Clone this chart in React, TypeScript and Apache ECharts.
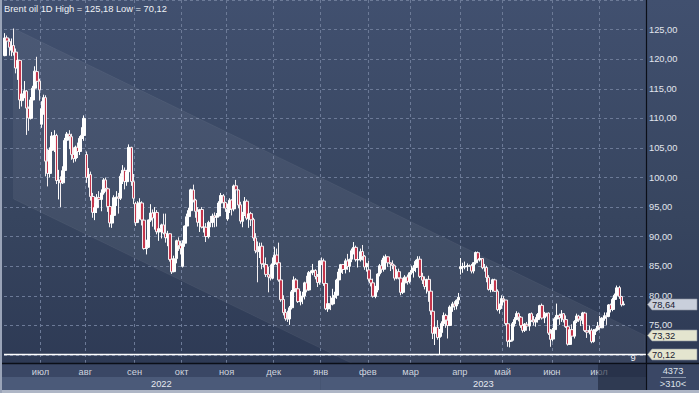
import React, { useEffect, useRef } from "react";
import * as echarts from "echarts";

const FONT = "'Liberation Sans', Arial, sans-serif";
const TITLE = "Brent oil 1D High = 125,18 Low = 70,12";
const firstDay = "2022-06-08";
const lastDay = "2023-07-18";
const monthShort = ["янв", "фев", "мар", "апр", "май", "июн", "июл", "авг", "сен", "окт", "ноя", "дек"];
const padSlots = 10;

// rows: [open, high, low, close]
const jun22 = [
  [120.6, 124.4, 120.5, 123.58], [123.6, 124.0, 121.7, 123.07], [123.0, 123.5, 120.6, 122.01], [121.5, 123.5, 120.5, 122.27],
  [122.3, 125.18, 120.6, 121.17], [121.2, 121.8, 117.6, 118.51], [118.5, 120.6, 116.5, 119.81], [119.8, 119.9, 111.6, 113.12],
  [113.0, 115.6, 112.0, 114.13], [114.1, 116.3, 113.4, 114.65], [114.6, 114.8, 107.2, 111.74], [111.7, 112.0, 107.9, 110.05],
  [110.0, 113.6, 109.8, 113.12], [113.1, 115.5, 112.4, 115.09], [115.1, 118.8, 115.0, 117.98], [117.9, 120.4, 115.6, 116.26],
  [116.3, 116.7, 113.0, 114.81],
];
const jul22 = [
  [109.0, 112.9, 108.4, 111.63], [111.6, 114.0, 110.6, 113.5], [113.5, 113.9, 100.2, 102.77], [102.8, 104.8, 98.5, 100.69],
  [100.7, 105.1, 100.0, 104.65], [104.6, 107.7, 103.5, 107.02], [107.0, 108.0, 104.3, 107.1], [107.1, 107.4, 98.9, 99.49],
  [99.5, 101.3, 96.3, 99.57], [99.6, 100.2, 95.0, 99.1], [99.1, 101.9, 98.9, 101.16], [101.2, 106.7, 101.0, 106.27],
  [106.3, 107.7, 104.5, 107.35], [107.3, 108.0, 104.8, 106.92], [106.9, 107.4, 103.0, 103.86], [103.9, 105.1, 102.5, 103.2],
  [103.2, 105.4, 102.7, 105.15], [105.1, 105.9, 103.3, 104.4], [104.4, 107.0, 103.8, 106.62], [106.6, 108.5, 104.9, 107.14],
  [107.1, 110.5, 106.2, 110.01],
];
const aug22 = [
  [103.9, 104.4, 99.1, 100.03], [100.0, 101.6, 98.3, 100.54], [100.5, 101.0, 96.1, 96.78], [96.8, 97.4, 93.2, 94.12],
  [94.1, 95.7, 92.8, 94.92], [94.9, 97.2, 94.0, 96.65], [96.6, 97.7, 95.3, 96.31], [96.3, 98.0, 94.3, 97.4],
  [97.4, 99.9, 97.1, 99.6], [99.6, 100.0, 97.6, 98.15], [98.1, 98.3, 94.2, 95.1], [95.1, 95.6, 91.6, 92.34],
  [92.3, 94.3, 91.5, 93.65], [93.6, 97.0, 93.2, 96.59], [96.6, 97.7, 95.2, 96.72], [96.7, 97.4, 93.9, 96.48],
  [96.5, 100.7, 96.2, 100.22], [100.2, 102.1, 98.9, 101.22], [101.2, 101.7, 98.0, 99.34], [99.3, 101.3, 98.6, 100.99],
  [101.0, 105.6, 100.7, 105.09], [105.1, 105.2, 98.6, 99.31], [99.3, 100.6, 95.5, 96.49],
];
const sep22 = [
  [95.6, 95.9, 91.8, 92.36], [92.4, 96.0, 92.3, 93.02], [93.0, 96.5, 93.0, 95.74], [95.7, 96.0, 91.9, 92.83],
  [92.8, 93.2, 87.8, 88.0], [88.0, 89.5, 87.0, 88.15], [88.2, 92.9, 88.1, 92.84], [92.8, 95.5, 92.5, 94.0],
  [94.0, 94.6, 91.7, 93.17], [93.2, 95.0, 91.2, 94.1], [94.1, 94.5, 90.4, 90.84], [90.8, 91.7, 89.3, 91.35],
  [91.4, 92.2, 89.7, 92.0], [92.0, 93.9, 90.4, 90.62], [90.6, 93.9, 89.0, 89.83], [89.8, 91.0, 88.4, 90.46],
  [90.5, 90.6, 85.8, 86.15], [86.2, 86.8, 83.7, 84.06], [84.1, 86.8, 84.0, 86.27], [86.3, 89.5, 85.5, 89.32],
  [89.3, 89.9, 87.6, 88.49], [88.5, 89.3, 87.0, 87.96],
];
const oct22 = [
  [85.0, 89.4, 84.8, 88.86], [88.9, 91.9, 88.3, 91.8], [91.8, 93.9, 91.2, 93.37], [93.4, 94.9, 92.6, 94.42],
  [94.4, 98.1, 94.2, 97.92], [97.9, 98.8, 95.8, 96.19], [96.2, 96.4, 93.2, 94.29], [94.3, 95.0, 91.7, 92.45],
  [92.4, 94.7, 90.8, 94.57], [94.6, 95.0, 91.4, 91.63], [91.6, 93.4, 90.7, 91.62], [91.6, 92.3, 89.1, 90.03],
  [90.0, 92.7, 89.7, 92.41], [92.4, 93.5, 91.6, 92.38], [92.4, 93.9, 91.6, 93.5], [93.5, 94.1, 91.6, 93.26],
  [93.3, 94.0, 91.7, 93.52], [93.5, 96.0, 93.3, 95.69], [95.7, 97.4, 95.0, 96.96], [96.9, 97.2, 94.8, 95.77],
  [95.8, 95.9, 94.2, 94.83],
];
const nov22 = [
  [93.0, 95.6, 92.7, 94.65], [94.6, 96.5, 94.0, 96.16], [96.2, 96.3, 93.6, 94.67], [94.7, 98.8, 94.3, 98.57],
  [98.6, 99.6, 97.2, 97.92], [97.9, 98.0, 94.8, 95.36], [95.4, 95.9, 92.2, 92.65], [92.6, 94.2, 91.6, 93.67],
  [93.7, 96.7, 93.5, 95.99], [96.0, 96.3, 92.8, 93.14], [93.1, 95.1, 91.5, 93.86], [93.9, 94.2, 91.8, 92.86],
  [92.9, 93.2, 89.3, 89.78], [89.8, 90.6, 87.2, 87.62], [87.6, 89.2, 82.3, 87.45], [87.5, 89.0, 86.4, 88.36],
  [88.4, 89.0, 84.5, 85.41], [85.4, 86.2, 84.8, 85.34], [85.3, 86.5, 83.2, 83.63], [83.6, 84.9, 80.6, 83.19],
  [83.2, 85.3, 82.6, 83.03], [83.0, 86.5, 82.8, 85.43],
];
const dec22 = [
  [85.4, 88.3, 85.2, 86.88], [86.9, 88.0, 85.2, 85.57], [85.6, 89.0, 82.4, 82.68], [82.7, 83.4, 79.0, 79.35],
  [79.4, 80.1, 76.7, 77.17], [77.2, 77.8, 75.8, 76.15], [76.1, 77.5, 75.6, 76.1], [76.1, 78.3, 75.1, 77.99],
  [78.0, 81.0, 77.7, 80.68], [80.7, 83.3, 80.1, 82.7], [82.7, 83.0, 80.8, 81.21], [81.2, 81.6, 78.8, 79.04],
  [79.0, 80.8, 78.4, 79.8], [79.8, 80.7, 78.6, 79.99], [80.0, 82.4, 79.4, 82.2], [82.2, 83.4, 80.6, 80.98],
  [81.0, 84.2, 80.9, 83.92], [83.9, 84.3, 83.5, 84.0], [84.0, 85.4, 83.5, 84.33], [84.3, 84.5, 82.8, 83.26],
  [83.3, 83.7, 81.5, 82.26], [82.3, 86.0, 81.9, 85.91],
];
const jan23 = [
  [85.9, 86.5, 85.2, 85.9], [85.9, 86.3, 81.7, 82.1], [82.1, 82.6, 77.6, 77.84], [77.8, 79.4, 77.3, 78.69],
  [78.7, 80.0, 77.6, 78.57], [78.6, 81.2, 78.4, 79.65], [79.7, 80.7, 78.6, 80.1], [80.1, 82.9, 79.5, 82.67],
  [82.7, 84.6, 82.1, 84.03], [84.0, 85.4, 83.6, 85.28], [85.3, 85.4, 83.7, 84.46], [84.5, 86.3, 83.8, 85.92],
  [85.9, 87.1, 84.4, 84.98], [85.0, 86.3, 84.0, 86.16], [86.2, 88.0, 85.7, 87.63], [87.6, 89.1, 87.0, 88.19],
  [88.2, 88.5, 85.8, 86.13], [86.1, 86.6, 84.8, 86.12], [86.1, 88.0, 85.8, 87.47], [87.5, 88.6, 86.0, 86.66],
  [86.7, 86.9, 84.4, 84.9], [84.9, 85.6, 84.1, 85.46],
];
const feb23 = [
  [84.4, 85.9, 82.4, 82.84], [82.8, 83.3, 81.6, 82.17], [82.2, 82.9, 79.7, 79.94], [79.9, 81.7, 79.6, 80.99],
  [81.0, 83.8, 80.6, 83.69], [83.7, 85.4, 83.3, 85.09], [85.1, 86.1, 83.9, 84.5], [84.5, 86.8, 84.1, 86.39],
  [86.4, 87.0, 85.3, 86.61], [86.6, 86.6, 84.9, 85.58], [85.6, 85.6, 84.2, 85.38], [85.4, 86.0, 84.5, 85.14],
  [85.1, 85.3, 82.6, 83.0], [83.0, 84.5, 82.8, 84.07], [84.1, 84.6, 82.8, 83.05], [83.0, 83.4, 80.1, 80.6],
  [80.6, 82.6, 80.3, 82.21], [82.2, 83.5, 81.6, 83.16], [83.2, 83.6, 81.9, 82.45], [82.4, 84.0, 82.1, 83.89],
];
const mar23 = [
  [83.9, 85.1, 83.6, 84.31], [84.3, 85.2, 83.1, 84.75], [84.8, 86.1, 84.0, 85.83], [85.8, 86.7, 85.5, 86.18],
  [86.2, 86.7, 83.0, 83.29], [83.3, 83.9, 82.0, 82.66], [82.7, 83.3, 81.1, 81.59], [81.6, 82.9, 80.4, 82.78],
  [82.8, 83.4, 79.0, 80.77], [80.8, 81.3, 76.8, 77.45], [77.4, 78.0, 72.7, 73.69], [73.7, 75.7, 71.7, 74.7],
  [74.7, 75.9, 72.6, 72.97], [73.0, 74.4, 70.12, 73.79], [73.8, 75.7, 73.1, 75.32], [75.3, 77.2, 74.9, 76.69],
  [76.7, 77.0, 74.6, 75.91], [75.9, 76.0, 72.8, 74.99], [75.0, 78.4, 74.9, 78.12], [78.1, 79.0, 77.3, 78.65],
  [78.6, 79.1, 77.6, 78.28], [78.3, 79.4, 77.7, 79.27], [79.3, 80.5, 78.6, 79.77],
];
const apr23 = [
  [84.6, 86.4, 83.6, 84.93], [84.9, 85.6, 83.9, 84.94], [84.9, 85.8, 84.5, 84.99], [85.0, 85.5, 84.2, 85.12],
  [85.1, 85.3, 84.9, 85.1], [85.1, 85.4, 83.8, 84.18], [84.2, 85.7, 83.8, 85.61], [85.6, 87.5, 85.3, 87.33],
  [87.3, 87.5, 86.0, 86.09], [86.1, 86.9, 85.8, 86.31], [86.3, 86.4, 84.5, 84.76], [84.8, 85.4, 84.1, 84.77],
  [84.8, 85.1, 82.3, 83.12], [83.1, 83.5, 80.9, 81.1], [81.1, 82.0, 80.6, 81.66], [81.7, 82.9, 80.7, 82.73],
  [82.7, 82.9, 80.7, 80.77], [80.8, 81.1, 77.4, 77.69], [77.7, 78.7, 77.0, 78.37], [78.4, 80.1, 77.8, 79.54],
];
const may23 = [
  [79.5, 80.0, 78.9, 79.31], [79.3, 79.3, 75.0, 75.32], [75.3, 75.5, 71.4, 72.33], [72.3, 73.0, 71.3, 72.5],
  [72.5, 75.6, 72.3, 75.3], [75.3, 76.4, 74.8, 76.0], [76.0, 77.4, 75.9, 77.01], [77.0, 77.2, 75.7, 76.41],
  [76.4, 76.6, 74.6, 74.98], [75.0, 75.7, 73.8, 74.17], [74.2, 75.4, 73.9, 75.23], [75.2, 75.6, 74.2, 74.91],
  [74.9, 77.1, 74.1, 76.96], [77.0, 77.2, 75.6, 75.86], [75.9, 76.6, 75.0, 75.58], [75.6, 76.4, 74.8, 75.99],
  [76.0, 77.1, 75.5, 76.84], [76.8, 78.5, 76.2, 78.36], [78.4, 78.7, 76.0, 76.26], [76.3, 77.3, 75.4, 76.95],
  [77.0, 77.1, 76.5, 77.07], [77.1, 77.2, 73.4, 73.71], [73.7, 74.4, 71.4, 72.66],
];
const jun23 = [
  [72.7, 74.6, 72.3, 74.28], [74.3, 76.4, 73.9, 76.13], [76.1, 78.7, 75.6, 76.71], [76.7, 77.0, 75.1, 76.29],
  [76.3, 77.6, 75.6, 76.95], [77.0, 77.1, 75.5, 75.96], [76.0, 76.7, 74.6, 74.79], [74.8, 74.9, 71.6, 71.84],
  [71.8, 74.4, 71.7, 74.29], [74.3, 75.2, 72.9, 73.2], [73.2, 75.9, 72.8, 75.67], [75.7, 77.0, 75.4, 76.61],
  [76.6, 76.8, 75.6, 76.09], [76.1, 76.6, 74.9, 75.9], [75.9, 77.3, 75.2, 77.12], [77.1, 77.3, 73.9, 74.14],
  [74.1, 74.5, 72.9, 73.85], [73.9, 75.0, 73.5, 74.18], [74.2, 74.5, 72.0, 72.26], [72.3, 74.4, 72.1, 74.03],
  [74.0, 74.5, 73.4, 74.34], [74.3, 75.6, 74.1, 74.9],
];
const jul23 = [
  [74.9, 76.6, 74.5, 74.65], [74.6, 76.4, 74.6, 76.25], [76.2, 77.2, 75.8, 76.65], [76.6, 77.2, 75.1, 76.52],
  [76.5, 78.6, 76.4, 78.47], [78.5, 78.7, 77.2, 77.69], [77.7, 79.7, 77.4, 79.4], [79.4, 80.4, 79.1, 80.11],
  [80.1, 81.75, 80.0, 81.36], [81.4, 81.7, 79.5, 79.87], [79.9, 80.0, 78.2, 78.5], [78.5, 79.1, 78.4, 78.64],
];

// price channel (upper line start / end, parallel width)
const channelStartIndex = 4;
const channelStartUpper = 125.18;
const channelEndIndex = 299;
const channelEndUpper = 73.32;
const channelWidth = 28.8;

const lowLevel = 70.12;
const hiddenAxisValues = [65, 70, 130];
const priceTags = [
  { value: 78.64, bg: "#c9cfdb" },
  { value: 73.32, bg: "#e4e5cf" },
  { value: 70.12, bg: "#e4e5cf" },
];

function tradingDays(from: string, to: string): Date[] {
  const out: Date[] = [];
  const d = new Date(from + "T00:00:00Z");
  const end = new Date(to + "T00:00:00Z");
  while (d <= end) {
    const wd = d.getUTCDay();
    if (wd !== 0 && wd !== 6) out.push(new Date(d.getTime()));
    d.setUTCDate(d.getUTCDate() + 1);
  }
  return out;
}

const fmt = (v: number) => v.toFixed(2).replace(".", ",");

export default function App() {
  const ref = useRef<HTMLDivElement>(null);
  useEffect(() => {
    document.body.style.margin = "0";
    if (!ref.current) return;
    const chart = echarts.init(ref.current, undefined, { renderer: "svg" });

    const rows = [...jun22, ...jul22, ...aug22, ...sep22, ...oct22, ...nov22, ...dec22, ...jan23, ...feb23, ...mar23, ...apr23, ...may23, ...jun23, ...jul23];
    const days = tradingDays(firstDay, lastDay);
    const n = Math.min(rows.length, days.length);
    const cats: string[] = [];
    for (let i = 0; i < n; i++) cats.push(days[i].toISOString().slice(0, 10));
    for (let i = 0; i < padSlots; i++) cats.push("pad" + i);
    const candle = rows.slice(0, n).map(([o, h, l, c]) => [o, c, l, h]);

    const monthStarts: number[] = [];
    for (let i = 1; i < n; i++) {
      if (days[i].getUTCMonth() !== days[i - 1].getUTCMonth()) monthStarts.push(i);
    }
    const isMonthStart = new Set(monthStarts);

    const option: any = {
      animation: false,
      backgroundColor: "transparent",
      grid: { left: 4, right: 53, top: -3.13, bottom: 8.34, containLabel: false },
      xAxis: {
        type: "category",
        data: cats,
        boundaryGap: true,
        axisLine: { show: false },
        axisTick: { show: false },
        axisLabel: { show: false },
        splitLine: {
          show: true,
          interval: (idx: number) => isMonthStart.has(idx),
          lineStyle: { color: "#6c7a97", type: [3, 3], width: 1 },
        },
      },
      yAxis: {
        type: "value",
        position: "right",
        min: 65,
        max: 130,
        interval: 5,
        axisLine: { show: false },
        axisTick: { show: false },
        axisLabel: {
          color: "#e2e6ee",
          fontSize: 9.3,
          fontFamily: FONT,
          margin: 3,
          formatter: (v: number) => (hiddenAxisValues.includes(v) ? "" : fmt(v)),
        },
        splitLine: { show: true, lineStyle: { color: "#6c7a97", type: [3, 3], width: 1 } },
      },
      series: [
        {
          type: "custom",
          z: 1,
          clip: true,
          silent: true,
          data: [[channelStartIndex, channelStartUpper]],
          renderItem: (_p: any, api: any) => {
            const a = api.coord([channelStartIndex, channelStartUpper]);
            const b = api.coord([channelEndIndex, channelEndUpper]);
            const c = api.coord([channelEndIndex, channelEndUpper - channelWidth]);
            const d = api.coord([channelStartIndex, channelStartUpper - channelWidth]);
            return {
              type: "polygon",
              shape: { points: [a, b, c, d] },
              style: { fill: "rgba(255,255,255,0.06)", stroke: "rgba(255,255,255,0.05)", lineWidth: 1 },
            };
          },
        },
        {
          type: "candlestick",
          z: 3,
          barWidth: 3,
          data: candle,
          itemStyle: {
            color: "#ffffff",
            color0: "#c4364c",
            borderColor: "#ffffff",
            borderColor0: "#f4f0f2",
            borderWidth: 1,
          },
          markLine: {
            silent: true,
            symbol: "none",
            label: { show: false },
            lineStyle: { color: "#ffffff", width: 1.3, type: "solid" },
            data: [{ yAxis: lowLevel }],
          },
        },
      ],
    };
    chart.setOption(option);

    const xOf = (i: number) => chart.convertToPixel({ xAxisIndex: 0 }, i) as number;
    const yOf = (v: number) => chart.convertToPixel({ yAxisIndex: 0 }, v) as number;
    const band = xOf(1) - xOf(0);
    const plotRight = 646;
    const axisTop = 363;

    const g: any[] = [];
    // bottom panel
    g.push({ type: "rect", z: 100, shape: { x: 0, y: axisTop, width: 699, height: 30 }, style: { fill: "#3a4765" } });
    const janIdx = monthStarts.find((i) => days[i].getUTCMonth() === 0) as number;
    const janX = xOf(janIdx) - band / 2;
    g.push({ type: "rect", z: 101, shape: { x: 2, y: 377, width: janX - 2, height: 13 }, style: { fill: "#4b5a79" } });
    g.push({ type: "rect", z: 101, shape: { x: janX, y: 377, width: plotRight - janX, height: 13 }, style: { fill: "#4b5a79" } });
    g.push({ type: "rect", z: 104, shape: { x: 0, y: 390, width: 699, height: 3 }, style: { fill: "#aeb6c6" } });
    g.push({ type: "rect", z: 104, shape: { x: 0, y: 0, width: 2, height: 393 }, style: { fill: "#9aa4b8" } });
    g.push({ type: "line", z: 103, shape: { x1: 0, y1: axisTop + 0.5, x2: 699, y2: axisTop + 0.5 }, style: { stroke: "#0b0f18", lineWidth: 1.4 } });
    g.push({ type: "line", z: 103, shape: { x1: plotRight + 0.5, y1: 0, x2: plotRight + 0.5, y2: 390 }, style: { stroke: "#0b0f18", lineWidth: 1.2 } });

    // month labels
    monthStarts.forEach((i) => {
      g.push({
        type: "text", z: 102, x: xOf(i) - band / 2, y: 372,
        style: { text: monthShort[days[i].getUTCMonth()], fill: "#cfd4df", font: `9.3px ${FONT}`, align: "center", verticalAlign: "middle" },
      });
    });
    // year labels
    const years = [
      { text: String(days[0].getUTCFullYear()), x0: 2, x1: janX },
      { text: String(days[janIdx].getUTCFullYear()), x0: janX, x1: plotRight },
    ];
    years.forEach((yr) => {
      g.push({
        type: "text", z: 102, x: (yr.x0 + yr.x1) / 2, y: 383.5,
        style: { text: yr.text, fill: "#e6e9f0", font: `9.3px ${FONT}`, align: "center", verticalAlign: "middle" },
      });
    });
    // dark current-period box
    g.push({ type: "rect", z: 103, shape: { x: 598, y: axisTop + 1, width: plotRight - 598, height: 26 }, style: { fill: "rgba(28,36,56,0.6)" } });

    // price tags
    priceTags.forEach((t) => {
      const y = Math.round(yOf(t.value)) + 0.5;
      g.push({
        type: "polygon", z: 105,
        shape: { points: [[plotRight + 1.5, y], [plotRight + 6, y - 5.5], [697, y - 5.5], [697, y + 5.5], [plotRight + 6, y + 5.5]] },
        style: { fill: t.bg, stroke: "#8d94a3", lineWidth: 0.6 },
      });
      g.push({
        type: "text", z: 106, x: plotRight + 6, y: y,
        style: { text: fmt(t.value), fill: "#1b2130", font: `9.3px ${FONT}`, align: "left", verticalAlign: "middle" },
      });
    });

    // title & misc texts
    g.push({ type: "text", z: 106, x: 4, y: 8.5, style: { text: TITLE, fill: "#eef1f6", font: `9.3px ${FONT}`, align: "left", verticalAlign: "middle" } });
    g.push({ type: "text", z: 106, x: 633, y: 358, style: { text: "9", fill: "#f2f4f8", font: `9.3px ${FONT}`, align: "center", verticalAlign: "middle" } });
    g.push({ type: "text", z: 106, x: 673, y: 371, style: { text: "4373", fill: "#dde2ea", font: `9.3px ${FONT}`, align: "center", verticalAlign: "middle" } });
    g.push({ type: "line", z: 106, shape: { x1: 661, y1: 377.5, x2: 686, y2: 377.5 }, style: { stroke: "#8a94a8", lineWidth: 1 } });
    g.push({ type: "text", z: 106, x: 673, y: 384, style: { text: ">310<", fill: "#dde2ea", font: `9.3px ${FONT}`, align: "center", verticalAlign: "middle" } });

    chart.setOption({ graphic: g });

    return () => chart.dispose();
  }, []);

  return (
    <div
      ref={ref}
      style={{
        width: 699,
        height: 393,
        background: "linear-gradient(180deg, #41506f 0%, #37455f 55%, #2c3853 100%)",
      }}
    />
  );
}
